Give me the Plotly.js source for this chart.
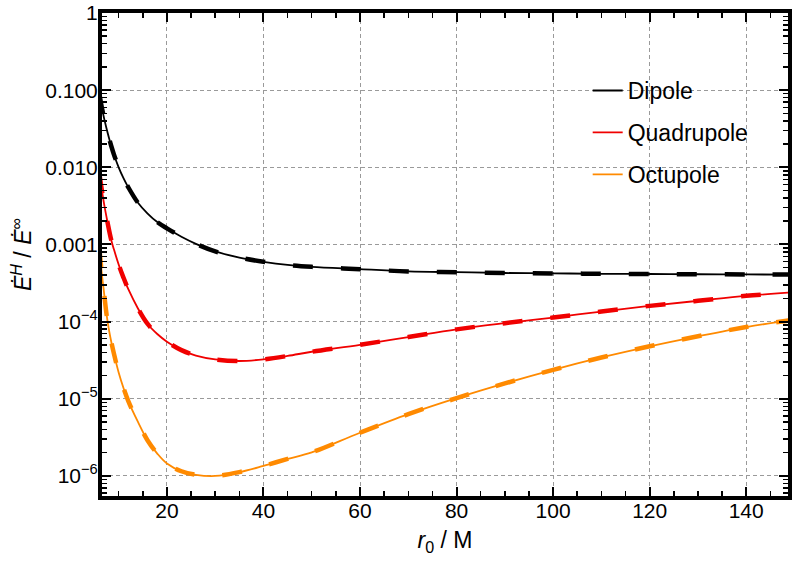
<!DOCTYPE html>
<html>
<head>
<meta charset="utf-8">
<script src="https://cdn.plot.ly/plotly-3.0.1.min.js"></script>
<style>
  body { margin: 0; background: #fff; }
  #plot { width: 800px; height: 565px; }
</style>
</head>
<body>
<div id="plot"></div>
<script>
// orbital radius r0 / M
const r = [6, 6.5, 7, 7.5, 8, 8.5, 9, 10, 11, 12, 14, 16, 18, 20, 23, 26, 30, 35, 40, 45,
           50, 60, 70, 80, 90, 100, 110, 120, 130, 140, 150]

// horizon flux / infinity flux
const dipole = [0.0891, 0.0603, 0.0427, 0.0316, 0.0240, 0.0186, 0.0148, 0.0100, 0.00724, 0.00550,
                0.00347, 0.00251, 0.00195, 0.00162, 0.00126, 0.00102, 0.000813, 0.000676, 0.000596, 0.000543,
                0.000513, 0.000479, 0.000447, 0.000437, 0.000427, 0.000422, 0.000417, 0.000414, 0.000411, 0.000409,
                0.000407]
const quadrupole = [0.00832, 0.00513, 0.00331, 0.00224, 0.00155, 0.00112, 0.000871, 0.000550, 0.000372, 0.000263,
                    1.48e-4, 9.33e-5, 6.92e-5, 5.50e-5, 4.27e-5, 3.63e-5, 3.24e-5, 3.09e-5, 3.24e-5, 3.59e-5,
                    4.07e-5, 5.01e-5, 6.31e-5, 7.94e-5, 9.55e-5, 1.13e-4, 1.35e-4, 1.60e-4, 1.86e-4, 2.16e-4,
                    2.40e-4]
const octupole = [8.91e-4, 4.27e-4, 2.29e-4, 1.23e-4, 7.76e-5, 5.37e-5, 3.89e-5, 2.19e-5, 1.38e-5, 9.33e-6,
                  5.01e-6, 2.88e-6, 1.95e-6, 1.45e-6, 1.15e-6, 1.035e-6, 1.0e-6, 1.12e-6, 1.35e-6, 1.66e-6,
                  2.02e-6, 3.63e-6, 6.31e-6, 1.02e-5, 1.58e-5, 2.37e-5, 3.43e-5, 4.79e-5, 6.46e-5, 8.51e-5,
                  1.06e-4]

const names  = ['Dipole', 'Quadrupole', 'Octupole']
const colors = ['#000000', '#f00000', '#ff8a00']

const yTickVals = [1e-6, 1e-5, 1e-4, 1e-3, 1e-2, 1e-1, 1]
const yTickText = ['10<sup>\u22126</sup>', '10<sup>\u22125</sup>', '10<sup>\u22124</sup>',
                   '0.001', '0.010', '0.100', '1']

// minor ticks 2..9 in each decade
let yMinor = []
for (let k = -7; k <= 0; k++) {
    for (let m = 2; m <= 9; m++) yMinor.push(m * Math.pow(10, k))
}

const FONT = 'Liberation Sans, Arial, sans-serif'

let data = []
const series = [dipole, quadrupole, octupole]
series.forEach((vals, i) => {
    // thin solid curve
    data.push({
        x: r, y: vals, mode: 'lines', name: names[i], legendgroup: names[i],
        line: {color: colors[i], width: 1.8, shape: 'spline'}
    })
    // thick dashed overlay
    data.push({
        x: r, y: vals, mode: 'lines', showlegend: false, legendgroup: names[i], hoverinfo: 'skip',
        line: {color: colors[i], width: 4.5, dash: '20px,28px', shape: 'spline'}
    })
})

let axisCommon = {
    showline: true, linewidth: 4, linecolor: '#000', mirror: 'allticks',
    ticks: 'inside', ticklen: 9, tickwidth: 2, tickcolor: '#000',
    showgrid: true, gridcolor: '#9a9a9a', gridwidth: 1, griddash: '4px,3px',
    zeroline: false, ticklabelstandoff: -4,
    tickfont: {family: FONT, size: 21, color: '#000'}
}

let layout = {
    width: 800, height: 565,
    margin: {l: 102, r: 12, t: 13, b: 69},
    paper_bgcolor: '#fff', plot_bgcolor: '#fff',
    font: {family: FONT, color: '#000'},
    showlegend: true,
    legend: {
        x: 0.708, y: 0.884, xanchor: 'left', yanchor: 'top',
        bgcolor: 'rgba(0,0,0,0)', borderwidth: 0,
        font: {family: FONT, size: 23, color: '#000'},
        itemwidth: 30, tracegroupgap: 9, traceorder: 'grouped'
    },
    xaxis: Object.assign({}, axisCommon, {
        range: [6.55, 148.66],
        tick0: 0, dtick: 20, ticklabelstandoff: -7,
        minor: {tick0: 0, dtick: 5, ticks: 'inside', ticklen: 5, tickwidth: 1.5, tickcolor: '#000', showgrid: false},
        title: {text: '<i>r</i><sub>0</sub> / M', font: {family: FONT, size: 23, color: '#000'}, standoff: 12}
    }),
    yaxis: Object.assign({}, axisCommon, {
        type: 'log',
        range: [-6.26, 0],
        tickmode: 'array', tickvals: yTickVals, ticktext: yTickText,
        minor: {tickmode: 'array', tickvals: yMinor, ticks: 'inside', ticklen: 5, tickwidth: 1.5, tickcolor: '#000', showgrid: false},
        title: {text: '<i>E\u0307</i><sup><i>H</i></sup> / <i>E\u0307</i><sup>\u221e</sup>', font: {family: FONT, size: 23, color: '#000'}, standoff: 8}
    })
}

Plotly.newPlot('plot', data, layout, {staticPlot: true})
</script>
</body>
</html>
